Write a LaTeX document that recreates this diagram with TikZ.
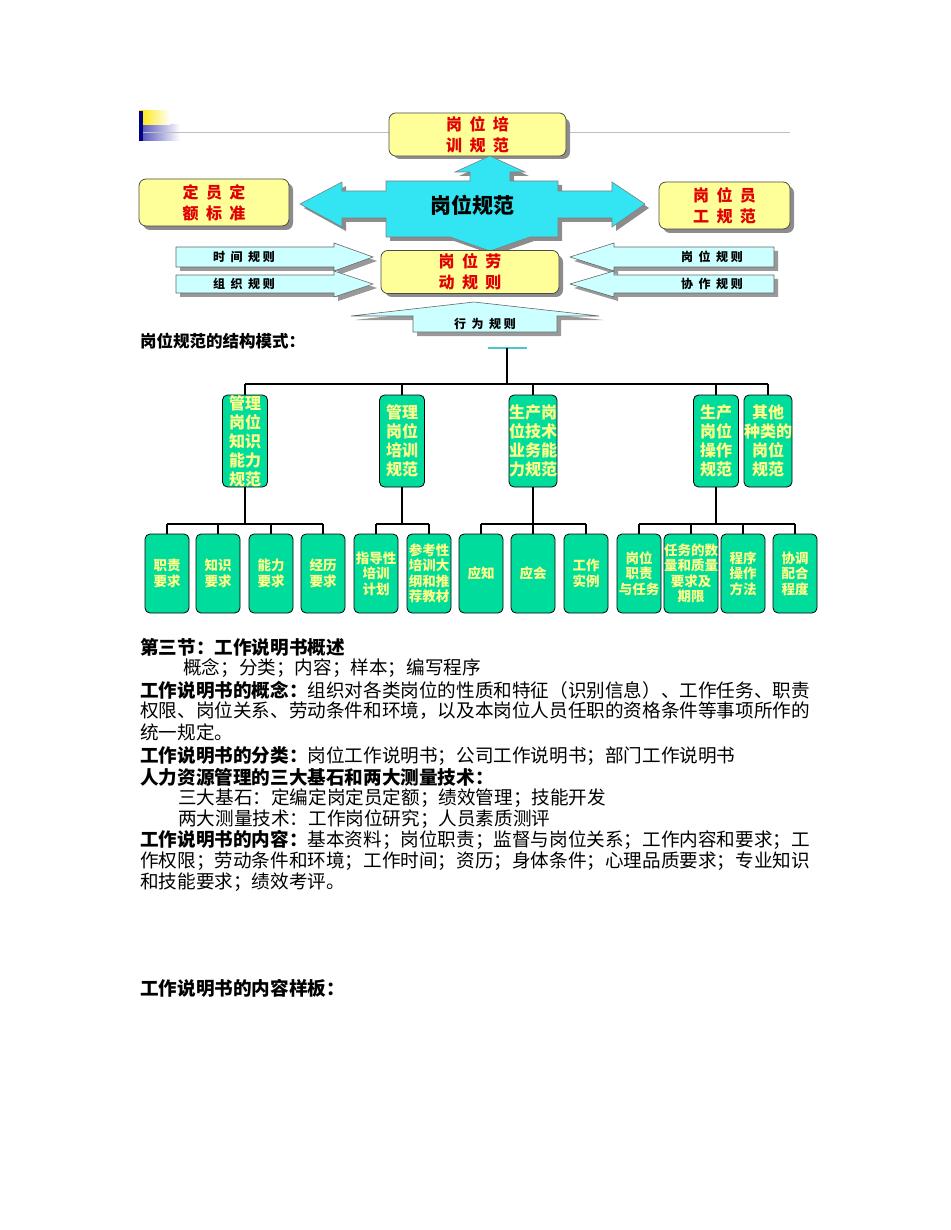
\documentclass[tikz,border=0pt]{standalone}
\usepackage{fontspec}
\setmainfont{Noto Sans CJK SC}
\definecolor{ybox}{HTML}{FFFF99}
\definecolor{cyanx}{HTML}{33E4F2}
\definecolor{lcyan}{HTML}{CCFFFF}
\definecolor{tgreen}{HTML}{00DC9C}
\definecolor{tyell}{HTML}{FFFF88}
\definecolor{redt}{HTML}{E00000}
\tikzset{
 ybx/.style={draw=black!70,fill=ybox,rounded corners=7pt,line width=0.8pt},
 shd/.style={fill=black!45,rounded corners=7pt},
 arr/.style={draw=black!60,fill=lcyan,line width=0.6pt},
 ashd/.style={fill=black!40},
 rt/.style={text=redt,font=\bfseries\fontsize{16}{21}\selectfont,align=center},
 bt/.style={text=black,font=\bfseries\fontsize{12}{14}\selectfont},
 tn/.style={draw=black,fill=tgreen,rounded corners=5pt,line width=0.8pt,minimum width=45pt,text=tyell,align=center,font=\bfseries\fontsize{16}{19}\selectfont,inner sep=0pt},
 tm/.style={draw=black,fill=tgreen,rounded corners=5pt,line width=0.8pt,minimum width=44pt,minimum height=79pt,text=tyell,align=center,font=\bfseries\fontsize{13.5}{15.5}\selectfont,inner sep=0pt},
 ln/.style={line width=1.6pt},
 tx/.style={anchor=west,inner sep=0pt,font=\fontsize{18.6}{20}\selectfont},
 ct/.style={font=\bfseries\fontsize{21}{22}\selectfont,inner sep=0pt},
}
\newcommand{\B}[1]{\textbf{#1}}
\begin{document}
\begin{tikzpicture}[x=1pt,y=-1pt]
\useasboundingbox (0,0) rectangle (950,1230);
% decoration
\shade[left color=blue!60!black!70,right color=white] (139,125) rectangle (180,141);
\shade[left color=yellow!80!orange,right color=white] (139,111) rectangle (170,125);
\fill[blue!50!black] (139,111) rectangle (143,141);
\draw[black!25,line width=0.6pt] (143,132) -- (790,132);
% yellow boxes
\fill[shd] (393,118) rectangle (570,159);
\node[ybx,minimum width=177pt,minimum height=41pt,rt] (tb) at (477.5,134.5) {岗\ \ 位\ \ 培\\训\ \ 规\ \ 范};
\fill[shd] (143,183) rectangle (293,230);
\node[ybx,minimum width=150pt,minimum height=47pt,rt] (lb) at (214,202.5) {定\ \ 员\ \ 定\\额\ \ 标\ \ 准};
\fill[shd] (663,186) rectangle (794,233);
\node[ybx,minimum width=131pt,minimum height=47pt,rt] (rb) at (724.5,205.5) {岗\ \ 位\ \ 员\\工\ \ 规\ \ 范};
% cross
\fill[black!45,shift={(4,4)}] (386,181) -- (470,181) -- (470,172) -- (455,172) -- (490,156) -- (525,172) -- (510,172) -- (510,181) -- (558,181) -- (558,191) -- (612,191) -- (612,182) -- (645,204) -- (612,227) -- (612,218) -- (558,218) -- (558,237) -- (530,237) -- (490,251) -- (450,237) -- (386,237) -- (386,218) -- (342,218) -- (342,227) -- (300,204) -- (342,182) -- (342,191) -- (386,191) -- cycle;
\draw[fill=cyanx,draw=black!50,line width=0.6pt] (386,181) -- (470,181) -- (470,172) -- (455,172) -- (490,156) -- (525,172) -- (510,172) -- (510,181) -- (558,181) -- (558,191) -- (612,191) -- (612,182) -- (645,204) -- (612,227) -- (612,218) -- (558,218) -- (558,237) -- (530,237) -- (490,251) -- (450,237) -- (386,237) -- (386,218) -- (342,218) -- (342,227) -- (300,204) -- (342,182) -- (342,191) -- (386,191) -- cycle;
\node[ct,text=black] (cx) at (472,205) {岗位规范};
% bottom box
\fill[shd] (385,255) rectangle (563,297);
\node[ybx,minimum width=178pt,minimum height=42pt,rt] (bb) at (470,272) {岗\ \ 位\ \ 劳\\动\ \ 规\ \ 则};
% side arrows
\foreach \ya/\yb/\yh/\yk/\t/\n in {247/267/243/271/时\ \ 间\ \ 规\ 则/a1, 275/293/271/297/组\ \ 织\ \ 规\ 则/a2}{
 \fill[ashd,shift={(4,4)}] (176,\ya) -- (334,\ya) -- (334,\yh) -- (373,{(\ya+\yb)/2}) -- (334,\yk) -- (334,\yb) -- (176,\yb) -- cycle;
 \draw[arr] (176,\ya) -- (334,\ya) -- (334,\yh) -- (373,{(\ya+\yb)/2}) -- (334,\yk) -- (334,\yb) -- (176,\yb) -- cycle;
 \node[bt] (\n) at (244,{(\ya+\yb)/2}) {\t};
}
\foreach \ya/\yb/\yh/\yk/\t/\n in {247/267/243/271/岗\ \ 位\ \ 规\ 则/b1, 275/293/271/297/协\ \ 作\ \ 规\ 则/b2}{
 \fill[ashd,shift={(4,4)}] (774,\ya) -- (614,\ya) -- (614,\yh) -- (570,{(\ya+\yb)/2}) -- (614,\yk) -- (614,\yb) -- (774,\yb) -- cycle;
 \draw[arr] (774,\ya) -- (614,\ya) -- (614,\yh) -- (570,{(\ya+\yb)/2}) -- (614,\yk) -- (614,\yb) -- (774,\yb) -- cycle;
 \node[bt] (\n) at (712,{(\ya+\yb)/2}) {\t};
}
\fill[ashd,shift={(4,4)}] (413,332) -- (413,316) -- (351,316) -- (474,302) -- (599,316) -- (557,316) -- (557,332) -- cycle;
\draw[arr] (413,332) -- (413,316) -- (351,316) -- (474,302) -- (599,316) -- (557,316) -- (557,332) -- cycle;
\node[bt] (xw) at (485,324) {行\ \ 为\ \ 规\ 则};
% caption
\node[tx,font=\bfseries\fontsize{16.5}{18}\selectfont] (cap) at (140,341) {岗位规范的结构模式：};
% tree
\draw[line width=2pt,cyanx!70!gray] (488,348) -- (527,348);
\coordinate (root) at (507,348);
\node[tn,minimum height=92pt] (n1) at (245,441) {管理\\岗位\\知识\\能力\\规范};
\node[tn,minimum height=92pt] (n2) at (402,441) {管理\\岗位\\培训\\规范};
\node[tn,minimum height=92pt] (n3) at (533,441) {生产岗\\位技术\\业务能\\力规范};
\node[tn,minimum height=92pt] (n4) at (716,441) {生产\\岗位\\操作\\规范};
\node[tn,minimum height=92pt] (n5) at (768,441) {其他\\种类的\\岗位\\规范};
\draw[ln] (root) -- (507,384);
\draw[ln] (245,384) -- (768,384);
\foreach \n in {n1,n2,n3,n4,n5} \draw[ln] (\n.north) -- (\n.north |- 0,384);
\foreach \x/\t/\n in {167/职责\\要求/m1,218/知识\\要求/m2,271/能力\\要求/m3,323/经历\\要求/m4,376/指导性\\培训\\计划/m5,429/参考性\\培训大\\纲和推\\荐教材/m6,481/应知/m7,533/应会/m8,586/工作\\实例/m9,639/岗位\\职责\\与任务/m10,691/任务的数\\量和质量\\要求及\\期限/m11,743/程序\\操作\\方法/m12,795/协调\\配合\\程度/m13}{
 \node[tm] (\n) at (\x,573.5) {\t};
 \draw[ln] (\n.north) -- (\n.north |- 0,524);
}
\draw[ln] (167,524) -- (323,524); \draw[ln] (n1.south) -- (245,524);
\draw[ln] (376,524) -- (429,524); \draw[ln] (n2.south) -- (402,524);
\draw[ln] (481,524) -- (586,524); \draw[ln] (n3.south) -- (533,524);
\draw[ln] (639,524) -- (795,524); \draw[ln] (n4.south) -- (716,524);
% text
\node[tx] (t1) at (140,647) {\B{第三节：工作说明书概述}};
\node[tx] (t2) at (183,668) {概念；分类；内容；样本；编写程序};
\node[tx] (t3) at (140,690) {\B{工作说明书的概念：}组织对各类岗位的性质和特征（识别信息）、工作任务、职责};
\node[tx] (t4) at (140,711) {权限、岗位关系、劳动条件和环境，以及本岗位人员任职的资格条件等事项所作的};
\node[tx] (t5) at (140,732) {统一规定。};
\node[tx] (t6) at (140,756) {\B{工作说明书的分类：}岗位工作说明书；公司工作说明书；部门工作说明书};
\node[tx] (t7) at (140,777) {\B{人力资源管理的三大基石和两大测量技术：}};
\node[tx] (t8) at (178,798) {三大基石：定编定岗定员定额；绩效管理；技能开发};
\node[tx] (t9) at (178,819) {两大测量技术：工作岗位研究；人员素质测评};
\node[tx] (t10) at (140,840) {\B{工作说明书的内容：}基本资料；岗位职责；监督与岗位关系；工作内容和要求；工};
\node[tx] (t11) at (140,861) {作权限；劳动条件和环境；工作时间；资历；身体条件；心理品质要求；专业知识};
\node[tx] (t12) at (140,882) {和技能要求；绩效考评。};
\node[tx] (t13) at (140,988) {\B{工作说明书的内容样板：}};
\end{tikzpicture}
\end{document}
